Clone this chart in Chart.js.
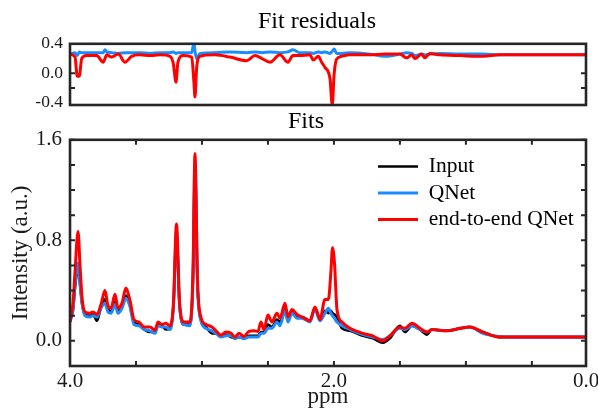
<!DOCTYPE html>
<html><head><meta charset="utf-8">
<script src="https://cdn.jsdelivr.net/npm/chart.js@4"></script>
<style>
html,body{margin:0;padding:0;background:#fff;width:598px;height:416px;overflow:hidden;}
#cA{position:absolute;left:0;top:0;}
#cB{position:absolute;left:0;top:100px;}
</style></head><body>
<canvas id="cA" width="598" height="112"></canvas>
<canvas id="cB" width="598" height="316"></canvas>
<script>
// ---------- Fits panel data (ppm axis, intensity a.u.) ----------
const ppmFit = [4.000,3.977,3.962,3.939,3.924,3.909,3.886,3.848,3.826,3.795,
  3.765,3.735,3.712,3.689,3.659,3.636,3.606,3.576,3.545,3.515,
  3.477,3.439,3.394,3.356,3.333,3.303,3.273,3.242,3.216,3.193,
  3.170,3.136,3.091,3.068,3.053,3.034,3.008,2.970,2.924,2.894,
  2.856,2.818,2.780,2.750,2.720,2.682,2.644,2.606,2.576,2.553,
  2.530,2.500,2.470,2.432,2.409,2.371,2.348,2.318,2.280,2.242,
  2.182,2.144,2.106,2.068,2.042,2.023,2.011,1.996,1.977,1.939,
  1.879,1.780,1.705,1.629,1.576,1.500,1.462,1.409,1.348,1.295,
  1.258,1.144,1.045,0.970,0.871,0.742,0.614,0.439,0.091];
const fitE2E = [0.15,0.30,0.55,0.87,0.60,0.35,0.23,0.22,0.23,0.21,
  0.29,0.40,0.28,0.26,0.37,0.26,0.30,0.42,0.32,0.17,
  0.15,0.11,0.11,0.085,0.15,0.13,0.14,0.12,0.30,0.93,
  0.31,0.15,0.15,0.55,1.49,0.49,0.19,0.13,0.11,0.08,
  0.045,0.07,0.06,0.03,0.06,0.035,0.075,0.08,0.075,0.15,
  0.09,0.205,0.15,0.22,0.18,0.30,0.19,0.25,0.21,0.19,
  0.16,0.27,0.17,0.33,0.33,0.55,0.74,0.62,0.25,0.15,
  0.10,0.06,0.04,0.00,0.04,0.11,0.10,0.14,0.10,0.07,
  0.09,0.08,0.10,0.11,0.07,0.03,0.03,0.03,0.03];
const fitQNet = [0.15,0.25,0.45,0.62,0.45,0.30,0.20,0.19,0.20,0.19,
  0.26,0.30,0.23,0.22,0.29,0.22,0.26,0.34,0.27,0.13,
  0.12,0.09,0.08,0.06,0.12,0.11,0.11,0.09,0.28,0.88,
  0.28,0.13,0.12,0.50,1.42,0.45,0.16,0.10,0.08,0.06,
  0.03,0.04,0.04,0.02,0.03,0.02,0.03,0.03,0.03,0.06,
  0.06,0.10,0.10,0.15,0.12,0.24,0.15,0.22,0.18,0.18,
  0.15,0.25,0.16,0.22,0.26,0.22,0.20,0.18,0.15,0.12,
  0.09,0.05,0.03,0.01,0.04,0.10,0.09,0.12,0.09,0.07,
  0.09,0.08,0.10,0.11,0.06,0.035,0.03,0.03,0.03];
const fitInput = [0.18,0.25,0.42,0.58,0.45,0.30,0.21,0.20,0.21,0.16,
  0.27,0.33,0.26,0.23,0.31,0.24,0.27,0.36,0.28,0.15,
  0.13,0.09,0.07,0.07,0.13,0.12,0.09,0.10,0.28,0.85,
  0.29,0.13,0.13,0.50,1.40,0.45,0.17,0.11,0.06,0.06,
  0.04,0.05,0.03,0.02,0.03,0.02,0.04,0.04,0.04,0.07,
  0.07,0.13,0.11,0.17,0.15,0.26,0.18,0.24,0.19,0.19,
  0.16,0.26,0.18,0.24,0.22,0.24,0.22,0.21,0.19,0.10,
  0.08,0.04,0.02,-0.015,0.02,0.12,0.07,0.12,0.09,0.05,
  0.09,0.08,0.10,0.11,0.07,0.03,0.03,0.03,0.03];

// ---------- Residuals panel data ----------
const ppmRes = [4.000,3.962,3.945,3.930,3.911,3.873,3.798,3.748,3.735,3.722,
  3.684,3.634,3.583,3.533,3.470,3.394,3.318,3.242,3.217,3.197,
  3.182,3.142,3.078,3.061,3.053,3.040,3.015,2.902,2.788,2.661,
  2.598,2.545,2.485,2.409,2.348,2.311,2.258,2.182,2.157,2.119,
  2.093,2.068,2.030,2.013,1.998,1.980,1.942,1.879,1.727,1.614,
  1.500,1.449,1.411,1.386,1.336,1.311,1.273,1.197,1.045,0.869,
  0.742,0.439,0.093];
const resE2E = [0.26,0.22,-0.04,-0.04,0.20,0.24,0.24,0.15,0.20,0.25,
  0.22,0.26,0.15,0.23,0.25,0.24,0.25,0.23,0.13,-0.12,
  0.15,0.24,0.22,-0.12,-0.32,0.08,0.23,0.25,0.22,0.17,
  0.24,0.20,0.15,0.25,0.15,0.24,0.24,0.25,0.18,0.23,
  0.15,0.08,-0.07,-0.43,0.00,0.19,0.23,0.25,0.25,0.26,
  0.26,0.21,0.25,0.20,0.26,0.21,0.27,0.25,0.24,0.23,
  0.25,0.25,0.25];
const resQNet = [0.26,0.28,0.24,0.29,0.28,0.28,0.28,0.28,0.32,0.29,
  0.28,0.27,0.28,0.28,0.28,0.27,0.28,0.28,0.29,0.27,
  0.28,0.28,0.28,0.41,0.30,0.20,0.27,0.28,0.29,0.28,
  0.29,0.28,0.29,0.28,0.29,0.32,0.28,0.28,0.27,0.29,
  0.28,0.29,0.27,0.30,0.33,0.27,0.27,0.28,0.26,0.23,
  0.26,0.28,0.27,0.24,0.26,0.25,0.26,0.27,0.26,0.26,
  0.25,0.25,0.25];

// ---------- Axis ticks / labels ----------
const X_MAX = 4.0;
const X_MIN = 0.09;              // right edge of the plotted window (labelled "0.0" in the figure)
const xTickValues = [4.0,3.5,3.0,2.5,2.0,1.5,1.0,0.5,X_MIN];
const xTickLabels = ['4.0','','','','2.0','','','','0.0'];
const yFitTickValues = [-0.2,0,0.2,0.4,0.6,0.8,1.0,1.2,1.4,1.6];
const yFitTickLabels = ['','0.0','','','','0.8','','','','1.6'];
const yResTickValues = [-0.4,0,0.4];
const yResTickLabels = ['-0.4','0.0','0.4'];
const yResMarks = [-0.2,0];

const seriesNames = ['Input','QNet','end-to-end QNet'];
const COL_INPUT = '#000000', COL_QNET = '#1a8cff', COL_E2E = '#ff0000';
const TEXT = '#1a1a1a', AXIS = '#262626';

Chart.defaults.font.family = "'Liberation Serif', 'Times New Roman', serif";
Chart.defaults.color = TEXT;
Chart.defaults.animation = false;

const pts = (xs, ys) => xs.map((x, i) => ({x, y: ys[i]}));

const framePlugin = {
  id: 'frame',
  afterDatasetsDraw(chart, args, opts) {
    const {ctx, chartArea: a, scales} = chart;
    ctx.save();
    ctx.strokeStyle = AXIS;
    ctx.lineWidth = 2;
    const len = 5;
    if (opts.xTicks) {
      scales.x.ticks.forEach(t => {
        const px = scales.x.getPixelForValue(t.value);
        ctx.beginPath();
        ctx.moveTo(px, a.top); ctx.lineTo(px, a.top + len);
        ctx.moveTo(px, a.bottom); ctx.lineTo(px, a.bottom - len);
        ctx.stroke();
      });
    }
    const yv = opts.yMarks || scales.y.ticks.map(t => t.value);
    yv.forEach(v => {
      const py = scales.y.getPixelForValue(v);
      ctx.beginPath();
      ctx.moveTo(a.left, py); ctx.lineTo(a.left + len, py);
      ctx.moveTo(a.right, py); ctx.lineTo(a.right - len, py);
      ctx.stroke();
    });
    ctx.lineWidth = 2.6;
    ctx.strokeRect(a.left, a.top, a.right - a.left, a.bottom - a.top);
    ctx.restore();
  }
};

const legendPlace = {
  id: 'legendPlace',
  afterLayout(chart, args, opts) {
    const lg = chart.legend;
    if (!lg || !opts.enabled) return;
    const a = chart.chartArea;
    const w = lg.width;
    lg.left = a.left + opts.dx;
    lg.right = lg.left + w;
    lg.top = a.top + opts.dy;
    lg.bottom = lg.top + 200;
  }
};

// empty right-hand spacer axis (keeps the plot's right edge off the canvas edge)
const spacerAxis = {
  position: 'right', display: true,
  grid: {display: false, drawTicks: false}, border: {display: false},
  ticks: {display: false},
  afterFit: s => { s.width = 12; }
};

const lineStyle = {pointRadius: 0, pointStyle: 'line', cubicInterpolationMode: 'monotone', borderJoinStyle: 'round'};

// ---------- Residuals chart ----------
new Chart(document.getElementById('cA'), {
  type: 'line',
  data: {
    datasets: [
      {label: seriesNames[1], data: pts(ppmRes, resQNet), borderColor: COL_QNET, borderWidth: 3, order: 2, ...lineStyle},
      {label: seriesNames[2], data: pts(ppmRes, resE2E), borderColor: COL_E2E, borderWidth: 3, order: 1, ...lineStyle}
    ]
  },
  plugins: [framePlugin],
  options: {
    responsive: false,
    layout: {padding: {left: 36, right: 0, top: 0, bottom: 7}},
    plugins: {
      legend: {display: false},
      tooltip: {enabled: false},
      title: {display: true, text: 'Fit residuals', color: '#000', font: {size: 24, weight: 'normal'}, padding: {top: 7, bottom: 8}},
      frame: {xTicks: false, yMarks: yResMarks}
    },
    scales: {
      x: {type: 'linear', reverse: true, min: X_MIN, max: X_MAX, display: false},
      y: {
        min: -0.43, max: 0.4,
        afterBuildTicks: s => { s.ticks = yResTickValues.map(v => ({value: v})); },
        afterFit: s => { s.width = 34; s.paddingTop = 0; s.paddingBottom = 0; },
        grid: {display: false, drawTicks: false}, border: {display: false},
        ticks: {autoSkip: false, padding: 7, font: {size: 17.5}, color: TEXT, callback: (v, i) => yResTickLabels[i]}
      },
      yR: spacerAxis
    }
  }
});

// ---------- Fits chart ----------
new Chart(document.getElementById('cB'), {
  type: 'line',
  data: {
    datasets: [
      {label: seriesNames[0], data: pts(ppmFit, fitInput), borderColor: COL_INPUT, backgroundColor: COL_INPUT, borderWidth: 2.6, order: 3, ...lineStyle},
      {label: seriesNames[1], data: pts(ppmFit, fitQNet), borderColor: COL_QNET, backgroundColor: COL_QNET, borderWidth: 3, order: 2, ...lineStyle},
      {label: seriesNames[2], data: pts(ppmFit, fitE2E), borderColor: COL_E2E, backgroundColor: COL_E2E, borderWidth: 3, order: 1, ...lineStyle}
    ]
  },
  plugins: [framePlugin, legendPlace],
  options: {
    responsive: false,
    layout: {padding: {left: 14, right: 0, top: 0, bottom: 0}},
    plugins: {
      tooltip: {enabled: false},
      title: {display: true, text: 'Fits', color: '#000', font: {size: 24, weight: 'normal'}, padding: {top: 7, bottom: 4}},
      legend: {
        display: true, position: 'chartArea', align: 'start',
        labels: {
          usePointStyle: true, pointStyle: 'line', pointStyleWidth: 40,
          padding: 5, color: '#000', font: {size: 21.5},
          sort: (a, b) => a.datasetIndex - b.datasetIndex
        }
      },
      legendPlace: {enabled: true, dx: 303, dy: 11},
      frame: {xTicks: true}
    },
    scales: {
      x: {
        type: 'linear', reverse: true, min: X_MIN, max: X_MAX,
        afterBuildTicks: s => { s.ticks = xTickValues.map(v => ({value: v})); },
        afterFit: s => { s.height = 50; s.paddingLeft = 0; s.paddingRight = 0; },
        grid: {display: false, drawTicks: false}, border: {display: false},
        ticks: {autoSkip: false, maxRotation: 0, padding: 3, font: {size: 21}, color: TEXT, callback: (v, i) => xTickLabels[i]},
        title: {display: true, text: 'ppm', color: TEXT, font: {size: 23}, padding: {top: 0, bottom: 5}}
      },
      y: {
        min: -0.2, max: 1.6,
        afterBuildTicks: s => { s.ticks = yFitTickValues.map(v => ({value: v})); },
        afterFit: s => { s.width = 56; s.paddingTop = 0; s.paddingBottom = 0; },
        grid: {display: false, drawTicks: false}, border: {display: false},
        ticks: {autoSkip: false, padding: 8, font: {size: 21}, color: TEXT, callback: (v, i) => yFitTickLabels[i]},
        title: {display: true, text: 'Intensity (a.u.)', color: TEXT, font: {size: 23}, padding: {top: -6.8, bottom: 0}}
      },
      yR: spacerAxis
    }
  }
});
</script>
</body></html>
